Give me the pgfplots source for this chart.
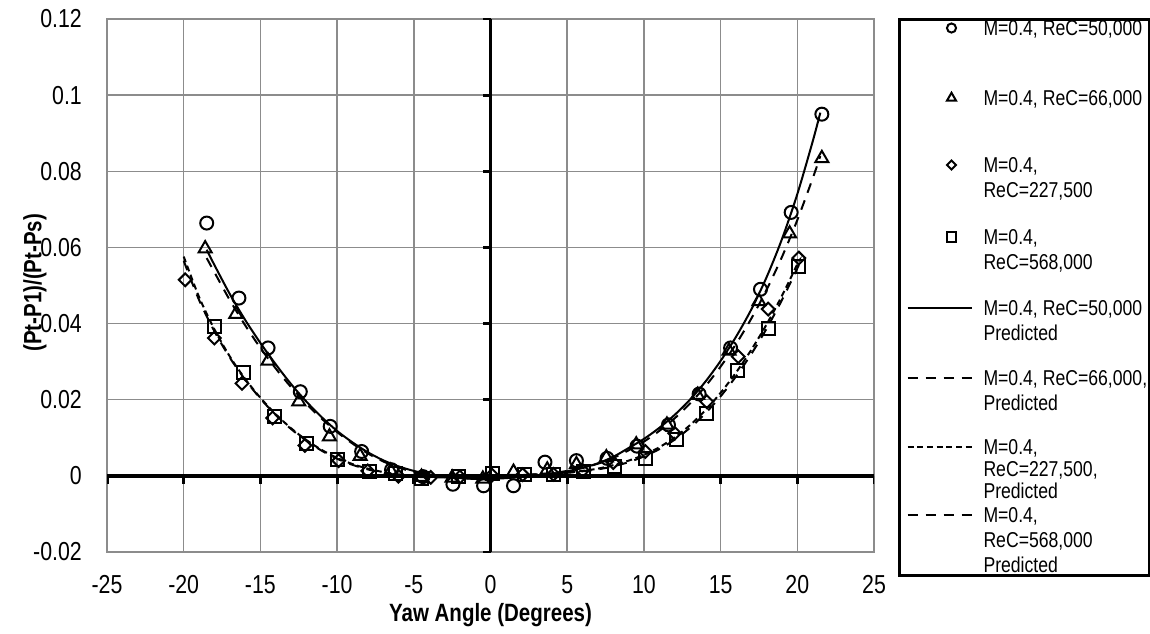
\documentclass[border=0pt]{standalone}
\usepackage{pgfplots}
\pgfplotsset{compat=1.18}
\usepackage{fontspec}
\setmainfont{Liberation Sans}[FakeStretch=0.82]
\definecolor{gridgray}{RGB}{140,140,140}
\begin{document}
\begin{tikzpicture}[x=1pt,y=1pt]
\useasboundingbox (0,0) rectangle (1150,633);
\begin{axis}[
  scale only axis, width=767pt, height=533pt,
  at={(107pt,81pt)}, anchor=south west,
  xmin=-25, xmax=25, ymin=-0.02, ymax=0.12,
  xtick={-25,-20,-15,-10,-5,0,5,10,15,20,25},
  xticklabels={-25,-20,-15,-10,-5,0,5,10,15,20,25},
  ytick={-0.02,0,0.02,0.04,0.06,0.08,0.1,0.12},
  yticklabels={-0.02,0,0.02,0.04,0.06,0.08,0.1,0.12},
  grid=major, major grid style={line width=1.5pt, draw=gridgray},
  axis line style={line width=1.5pt, draw=gridgray},
  major tick length=0pt,
  ticklabel style={font=\fontsize{26}{30}\selectfont},
  yticklabel style={anchor=east, inner sep=0pt, xshift=-25pt},
  xticklabel style={anchor=north, inner sep=0pt, yshift=-23pt},
  xlabel={Yaw Angle (Degrees)},
  ylabel={(Pt-P1)/(Pt-Ps)},
  label style={font=\bfseries\fontsize{25}{29}\selectfont},
  xlabel style={at={(axis description cs:0.5,-0.119)}, anchor=center},
  ylabel style={at={(axis description cs:-0.0939,0.505)}, anchor=center},
  every axis plot/.append style={line width=2pt, black},
  legend style={at={(axis description cs:1.03064,1.00281)}, anchor=north west,
    draw=black, line width=3pt, inner xsep=4.5pt, inner ysep=1pt,
    font=\fontsize{21.5}{25}\selectfont,
    nodes={inner sep=0pt, text depth={}, text height={}}, cells={anchor=base west},
    /tikz/every odd column/.append style={column sep=11pt}, row sep=0pt},
  mlegend/.style={legend image code/.code={\path[draw=none,fill=none] (0pt,0pt) rectangle (68pt,7pt);
      \draw[##1, /tikz/every mark/.append style={scale=0.7}] plot coordinates {(48pt,7pt)};}},
  llegend/.style={legend image code/.code={\path[draw=none,fill=none] (0pt,0pt) rectangle (68pt,7pt);
      \draw[##1] (4pt,7pt) -- (68pt,7pt);}},
]
% zero axes
\draw[black, line width=3.5pt] (axis cs:-25,0) -- (axis cs:25,0);
\draw[black, line width=3.5pt] (axis cs:0,-0.02) -- (axis cs:0,0.12);
\pgfplotsinvokeforeach{-25,-20,-15,-10,-5,5,10,15,20,25}{
  \draw[black, line width=3pt] (axis cs:#1,0) -- ++(0pt,-8pt);}
\pgfplotsinvokeforeach{-0.02,0.02,0.04,0.06,0.08,0.1,0.12}{
  \draw[black, line width=3pt] (axis cs:0,#1) -- ++(-8pt,0pt);}

\addplot[only marks, mark=o, mark size=6.5pt, mark options={solid, line width=2pt}, mlegend] coordinates {
(-18.5,0.0664) (-16.4,0.0467) (-14.5,0.0336) (-12.4,0.0221) (-10.45,0.0130) (-8.4,0.0064)
(-6.45,0.0016) (-4.4,-0.0002) (-2.45,-0.0022) (-0.45,-0.0026) (1.5,-0.0026) (3.55,0.0036)
(5.6,0.0040) (7.6,0.0046) (9.55,0.0078) (11.6,0.0134) (13.6,0.0215) (15.65,0.0336)
(17.6,0.0490) (19.6,0.0692) (21.6,0.0950)};
\addlegendentry{\parbox[t][70pt][t]{161pt}{\mbox{M=0.4, ReC=50,000}}}

\addplot[only marks, mark=triangle, mark size=7.5pt, mark options={solid, line width=2pt}, mlegend] coordinates {
(-18.6,0.0597) (-16.6,0.0425) (-14.5,0.0302) (-12.5,0.0195) (-10.5,0.0103) (-8.5,0.0052)
(-6.5,0.0013) (-4.5,-0.0003) (-2.5,-0.0005) (-0.5,-0.0008) (1.5,0.0010) (3.7,0.0016)
(5.6,0.0030) (7.55,0.0048) (9.5,0.0082) (11.5,0.0134) (13.5,0.0212) (15.55,0.0328)
(17.5,0.0458) (19.5,0.0636) (21.6,0.0834)};
\addlegendentry{\parbox[t][67pt][t]{161pt}{\mbox{M=0.4, ReC=66,000}}}

\addplot[only marks, mark=square, mark size=4.5pt, mark options={solid, line width=2pt, rotate=45}, mlegend] coordinates {
(-19.9,0.0515) (-18.0,0.0362) (-16.2,0.0243) (-14.2,0.0152) (-12.1,0.0080) (-9.9,0.0040)
(-8.0,0.0013) (-6.0,-0.0001) (-3.9,-0.0004) (-2.0,-0.0003) (0.1,0.0002) (2.1,0.0003)
(4.1,0.0004) (6.0,0.0014) (8.0,0.0035) (10.1,0.0064) (12.0,0.0112) (14.1,0.0195)
(16.15,0.0313) (18.1,0.0438) (20.1,0.0572)};
\addlegendentry{\parbox[t][72pt][t]{161pt}{M=0.4,\\ReC=227,500}}

\addplot[only marks, mark=square, mark size=6.5pt, mark options={solid, line width=2pt}, mlegend] coordinates {
(-18.0,0.0392) (-16.1,0.0272) (-14.1,0.0155) (-12.0,0.0086) (-10.0,0.0042) (-7.9,0.0012)
(-6.2,0.0006) (-4.5,-0.0007) (-2.1,-0.0001) (0.1,0.0005) (2.2,0.0003) (4.1,0.0003)
(6.05,0.0012) (8.1,0.0025) (10.1,0.0046) (12.1,0.0095) (14.1,0.0165) (16.1,0.0278)
(18.1,0.0388) (20.1,0.0550)};
\addlegendentry{\parbox[t][71pt][t]{161pt}{M=0.4,\\ReC=568,000}}

\addplot[smooth, no marks, solid, llegend] coordinates {
(-18.5,0.0594) (-18,0.0554) (-17,0.0478) (-16,0.0410) (-15,0.0349) (-14,0.0293)
(-13,0.0241) (-12,0.0195) (-11,0.0154) (-10,0.0118) (-9,0.0088) (-8,0.0062) (-7,0.0041)
(-6,0.0025) (-5,0.0013) (-4,0.0004) (-3,-0.0002) (-2,-0.0006) (-1,-0.0008) (0,-0.0008)
(1,-0.0006) (2,-0.0003) (3,0.0001) (4,0.0005) (5,0.0012) (6,0.0021) (7,0.0033) (8,0.0050)
(9,0.0073) (10,0.0097) (11,0.0126) (12,0.0160) (13,0.0200) (14,0.0247) (15,0.0302)
(16,0.0365) (17,0.0437) (18,0.0522) (19,0.0622) (20,0.0740) (21,0.0878) (21.5,0.0954)};
\addlegendentry{\parbox[t][70pt][t]{161pt}{\mbox{M=0.4, ReC=50,000}\\Predicted}}

\addplot[smooth, no marks, dash pattern=on 10pt off 8pt, llegend] coordinates {
(-18.5,0.0572) (-18,0.0535) (-17,0.0462) (-16,0.0396) (-15,0.0336) (-14,0.0282)
(-13,0.0233) (-12,0.0189) (-11,0.0150) (-10,0.0115) (-9,0.0085) (-8,0.0059) (-7,0.0038)
(-6,0.0022) (-5,0.0010) (-4,0.0002) (-3,-0.0003) (-2,-0.0006) (-1,-0.0007) (0,-0.0007)
(1,-0.0005) (2,-0.0002) (3,0.0002) (4,0.0007) (5,0.0013) (6,0.0021) (7,0.0032) (8,0.0047)
(9,0.0067) (10,0.0090) (11,0.0118) (12,0.0151) (13,0.0190) (14,0.0235) (15,0.0287)
(16,0.0346) (17,0.0413) (18,0.0489) (19,0.0575) (20,0.0672) (21,0.0781) (21.5,0.0840)};
\addlegendentry{\parbox[t][69pt][t]{161pt}{\mbox{M=0.4, ReC=66,000,}\\Predicted}}

\addplot[smooth, no marks, dash pattern=on 6pt off 3.7pt, llegend] coordinates {
(-20,0.0576) (-19,0.0470) (-18,0.0385) (-17,0.0314) (-16,0.0255) (-15,0.0205) (-14,0.0162)
(-13,0.0125) (-12,0.0094) (-11,0.0068) (-10,0.0047) (-9,0.0031) (-8,0.0019) (-7,0.0010)
(-6,0.0004) (-5,0.0000) (-4,-0.0002) (-3,-0.0003) (-2,-0.0003) (-1,-0.0002) (0,0.0000)
(1,0.0001) (2,0.0002) (3,0.0004) (4,0.0006) (5,0.0009) (6,0.0013) (7,0.0019) (8,0.0028)
(9,0.0040) (10,0.0055) (11,0.0075) (12,0.0101) (13,0.0133) (14,0.0172) (15,0.0218)
(16,0.0271) (17,0.0331) (18,0.0398) (19,0.0473) (20,0.0556) (20.1,0.0565)};
\addlegendentry{\parbox[t][68pt][t]{161pt}{\fontsize{21.5}{22}\selectfont M=0.4,\\ReC=227,500,\\Predicted}}

\addplot[smooth, no marks, dash pattern=on 10pt off 8pt, llegend] coordinates {
(-20,0.0565) (-19,0.0462) (-18,0.0380) (-17,0.0311) (-16,0.0253) (-15,0.0203) (-14,0.0160)
(-13,0.0123) (-12,0.0092) (-11,0.0066) (-10,0.0045) (-9,0.0029) (-8,0.0017) (-7,0.0008)
(-6,0.0002) (-5,-0.0002) (-4,-0.0004) (-3,-0.0004) (-2,-0.0003) (-1,-0.0001) (0,0.0001)
(1,0.0002) (2,0.0003) (3,0.0004) (4,0.0006) (5,0.0008) (6,0.0012) (7,0.0017) (8,0.0025)
(9,0.0036) (10,0.0051) (11,0.0070) (12,0.0095) (13,0.0126) (14,0.0164) (15,0.0209)
(16,0.0261) (17,0.0320) (18,0.0387) (19,0.0462) (20,0.0545) (20.1,0.0554)};
\addlegendentry{\parbox[t][67pt][t]{161pt}{M=0.4,\\ReC=568,000\\Predicted}}
\end{axis}
\end{tikzpicture}
\end{document}
